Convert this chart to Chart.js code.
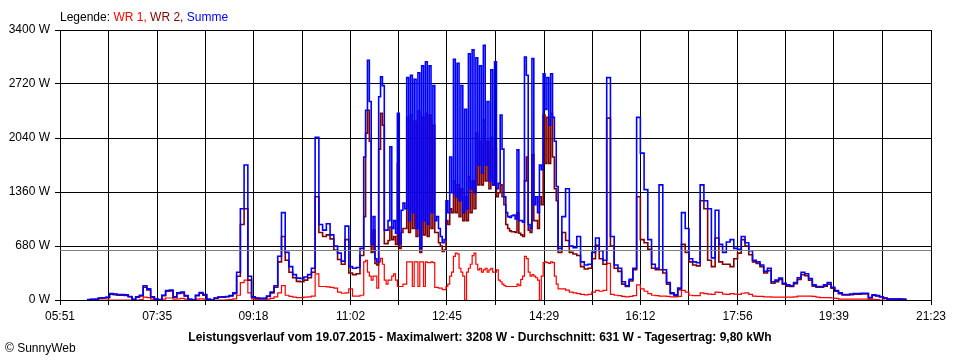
<!DOCTYPE html>
<html>
<head>
<meta charset="utf-8">
<script src="https://cdn.jsdelivr.net/npm/chart.js@4.4.0/dist/chart.umd.min.js"></script>
<style>
  html, body { margin: 0; padding: 0; background: #fff; }
  #wrap { position: relative; width: 960px; height: 360px; overflow: hidden; font-family: "Liberation Sans", Arial, sans-serif; }
  #c { position: absolute; left: 0; top: 0; }
  .txt { position: absolute; white-space: nowrap; font-size: 12px; line-height: 14px; color: #000; }
  #legend { left: 60px; top: 10px; }
  #title { left: 0; width: 960px; top: 330px; text-align: center; font-weight: bold; }
  #copy { left: 5px; top: 341px; }
</style>
</head>
<body>
<div id="wrap">
  <canvas id="c" width="960" height="360"></canvas>
  <div id="legend" class="txt">Legende: <span style="color:#ff0000">WR 1,</span> <span style="color:#800000">WR 2,</span> <span style="color:#0000ff">Summe</span></div>
  <div id="title" class="txt">Leistungsverlauf vom 19.07.2015 - Maximalwert: 3208 W - Durchschnitt: 631 W - Tagesertrag: 9,80 kWh</div>
  <div id="copy" class="txt">© SunnyWeb</div>
</div>
<script>
// ---- data ----
const xTickLabels = ['05:51','07:35','09:18','11:02','12:45','14:29','16:12','17:56','19:39','21:23'];
const yTickLabels = ['0 W','680 W','1360 W','2040 W','2720 W','3400 W'];
const yMax = 3400;
const averageW = 631;

const times = [
 '06:20','06:24','06:28','06:32','06:36','06:40','06:44','06:48','06:52','06:56',
 '07:00','07:04','07:08','07:12','07:16','07:20','07:24','07:28','07:32','07:36','07:40','07:44','07:48','07:52','07:56',
 '08:00','08:04','08:08','08:12','08:16','08:20','08:24','08:28','08:32','08:36','08:40','08:44','08:48','08:52','08:56',
 '09:00','09:04','09:08','09:12','09:16','09:20','09:24','09:28','09:32','09:36','09:40','09:44','09:48','09:52','09:56',
 '10:00','10:04','10:08','10:12','10:16','10:20','10:24','10:28','10:32','10:36','10:40','10:44','10:48','10:52','10:56',
 '11:00','11:04','11:08','11:12','11:16','11:18','11:20','11:22','11:24','11:26','11:28','11:30','11:32','11:34','11:36','11:38','11:40','11:42','11:44','11:46','11:48','11:50','11:52','11:54','11:56','11:58',
 '12:00','12:02','12:04','12:06','12:08','12:10','12:12','12:14','12:16','12:18','12:20','12:22','12:24','12:26','12:28','12:30','12:32','12:34','12:36','12:38','12:40','12:42','12:44','12:46','12:48','12:50','12:52','12:54','12:56','12:58',
 '13:00','13:02','13:04','13:06','13:08','13:10','13:12','13:14','13:16','13:18','13:20','13:22','13:24','13:26','13:28','13:30','13:32','13:34','13:36','13:38','13:40','13:42','13:44','13:46','13:48','13:50','13:52','13:54','13:56','13:58',
 '14:00','14:02','14:04','14:06','14:08','14:10','14:12','14:14','14:16','14:18','14:20','14:22','14:24','14:26','14:28','14:30','14:32','14:34','14:36','14:38','14:40','14:42','14:44','14:48','14:52','14:56',
 '15:00','15:04','15:08','15:12','15:16','15:20','15:24','15:28','15:32','15:36','15:40','15:44','15:48','15:52','15:56',
 '16:00','16:04','16:08','16:12','16:16','16:20','16:24','16:28','16:32','16:36','16:40','16:44','16:48','16:52','16:56',
 '17:00','17:04','17:08','17:12','17:16','17:20','17:24','17:28','17:32','17:36','17:40','17:44','17:48','17:52','17:56',
 '18:00','18:04','18:08','18:12','18:16','18:20','18:24','18:28','18:32','18:36','18:40','18:44','18:48','18:52','18:56',
 '19:00','19:04','19:08','19:12','19:16','19:20','19:24','19:28','19:32','19:36','19:40','19:44','19:48','19:52','19:56',
 '20:00','20:04','20:08','20:12','20:16','20:20','20:24','20:28','20:32','20:36','20:40','20:44','20:48','20:52','20:56'
];

const summe = [
 5,8,10,25,28,35,80,75,68,68,
 65,45,8,40,60,180,140,40,12,5,60,120,125,40,90,
 100,55,10,0,60,95,70,10,0,25,38,40,45,55,90,
 350,1150,1700,300,40,25,20,20,50,100,180,550,1100,600,420,
 320,275,270,290,320,400,2050,950,880,960,820,680,590,490,930,
 420,400,410,650,1800,2390,3020,2500,700,1050,520,480,2560,2810,2700,880,880,1000,1930,900,1000,840,2350,710,1130,1220,
 1150,2800,1000,2830,1100,2780,900,2860,650,2950,1000,3000,950,2950,1100,2700,1000,1050,900,800,720,760,1250,1100,1800,1350,3030,1300,2980,1250,
 2700,1100,2400,1150,3100,1400,3150,1350,3050,1700,2950,1600,3208,1700,2500,1500,2900,1450,3000,1400,1470,2330,1900,1300,1100,1050,1040,1060,1070,1020,
 1890,1000,1000,980,3060,2830,950,900,3040,1200,1300,1100,1700,1640,2850,2400,2800,2200,2850,2300,2000,1430,650,1050,1400,680,
 660,800,480,440,450,600,780,620,500,2800,800,440,400,230,180,
 260,400,2300,1850,1390,760,450,400,1450,380,220,90,65,150,1100,
 900,520,480,470,1450,1250,1150,530,1130,700,600,730,760,650,640,
 800,720,620,500,480,440,360,400,230,250,275,210,190,180,220,
 280,350,330,270,190,170,170,190,220,160,120,90,70,70,75,
 80,80,85,85,30,65,55,40,25,13,13,13,12,10,0
];

const wr2 = [
 4,7,9,22,25,30,72,68,62,62,
 58,40,6,36,52,160,125,35,10,4,55,110,115,35,82,
 90,50,8,0,55,85,62,8,0,22,34,36,40,50,80,
 300,950,1150,250,35,22,18,18,45,90,160,480,800,500,350,
 280,235,230,250,280,350,1300,850,800,820,770,630,510,450,760,
 340,320,330,560,1050,2100,2390,2000,600,880,460,440,1900,2350,2200,710,710,750,920,760,800,700,1720,650,850,900,
 900,2300,850,2330,900,2250,800,2380,600,2300,820,2350,800,2330,900,2200,850,850,720,680,610,630,1000,950,1150,1100,1500,1100,1450,1050,
 1400,1000,1300,1000,1550,1100,1500,1150,2100,1450,2000,1450,2270,1500,2000,1400,2050,1450,1900,1300,1350,1450,1300,1200,950,900,870,860,860,850,
 1100,840,820,800,1500,1800,880,850,1830,1000,1000,900,1300,1200,2330,1720,2300,1720,2350,1800,1400,1250,600,850,750,600,
 580,560,420,390,400,520,690,520,450,2290,680,400,360,200,170,
 240,380,1300,760,720,640,400,380,380,340,200,80,55,130,700,
 600,480,440,430,1250,1150,500,420,780,480,450,450,420,520,590,
 760,680,570,480,460,420,340,370,210,230,260,200,175,170,205,
 260,320,305,250,175,160,160,175,200,150,110,80,65,65,68,
 72,72,75,75,28,58,50,38,22,12,12,12,11,9,0
];

const wr1 = [
 0,0,0,0,0,0,0,0,0,0,
 0,0,0,0,5,35,30,10,0,0,10,25,25,10,15,
 20,10,0,0,10,15,12,0,0,0,0,0,3,5,15,
 60,220,250,90,15,5,3,3,10,20,40,90,180,60,45,
 35,30,30,35,40,50,330,170,170,165,160,150,100,85,90,
 140,50,50,60,480,500,350,300,250,300,300,150,480,525,450,250,200,250,250,300,330,250,170,170,170,200,
 200,480,480,480,170,480,480,170,480,480,170,480,470,470,480,470,160,160,150,150,130,130,170,200,300,350,550,590,580,400,
 350,300,0,350,400,450,560,590,450,380,400,350,380,400,350,380,400,350,350,380,250,230,200,180,170,170,170,170,170,170,
 200,180,260,300,550,520,350,300,320,300,280,250,0,300,470,480,470,460,480,470,300,200,140,140,125,100,
 90,80,70,65,70,100,120,110,120,460,70,60,55,45,40,
 45,55,190,140,110,80,60,55,50,50,45,40,40,45,120,
 100,60,55,55,90,80,75,70,100,95,75,70,80,75,70,
 85,90,70,50,45,45,40,40,35,35,35,35,35,35,40,
 50,50,50,50,45,35,30,30,30,25,20,12,10,10,10,
 10,10,10,10,8,8,5,0,0,0,0,0,0,0,0
];

// ---- helpers ----
function toMin(s) { const p = s.split(':'); return (+p[0]) * 60 + (+p[1]); }
function pts(arr) { return arr.map((v, i) => ({ x: toMin(times[i]), y: v })); }

const labelMinutes = xTickLabels.map(toMin);
const gridMinutes = [];
labelMinutes.forEach((m, k) => {
  gridMinutes.push(m);
  if (k < labelMinutes.length - 1) gridMinutes.push((m + labelMinutes[k + 1]) / 2);
});

const avgLine = {
  id: 'avgLine',
  afterDraw(chart) {
    const { ctx, chartArea, scales } = chart;
    const y = Math.round(scales.y.getPixelForValue(averageW)) + 0.5;
    ctx.save();
    ctx.strokeStyle = '#808080';
    ctx.lineWidth = 1;
    ctx.beginPath();
    ctx.moveTo(chartArea.left, y);
    ctx.lineTo(chartArea.right, y);
    ctx.stroke();
    ctx.restore();
  }
};

Chart.defaults.font.family = '"Liberation Sans", Arial, sans-serif';
Chart.defaults.font.size = 12;
Chart.defaults.color = '#000';

const common = { pointRadius: 0, pointHoverRadius: 0, stepped: true, fill: false, tension: 0 };

new Chart(document.getElementById('c'), {
  type: 'line',
  data: {
    datasets: [
      Object.assign({ label: 'Summe', data: pts(summe), borderColor: '#0000ff', borderWidth: 1.6, order: 0 }, common),
      Object.assign({ label: 'WR 2', data: pts(wr2), borderColor: '#800000', borderWidth: 1.6, order: 1 }, common),
      Object.assign({ label: 'WR 1', data: pts(wr1), borderColor: '#ff0000', borderWidth: 1.2, order: 2 }, common)
    ]
  },
  options: {
    responsive: false,
    animation: false,
    devicePixelRatio: 1,
    layout: { padding: { top: 30, right: 29, left: 0, bottom: 0 } },
    plugins: { legend: { display: false }, tooltip: { enabled: false }, title: { display: false } },
    scales: {
      x: {
        type: 'linear',
        min: labelMinutes[0],
        max: labelMinutes[labelMinutes.length - 1],
        z: 1,
        afterBuildTicks: s => { s.ticks = gridMinutes.map(v => ({ value: v })); },
        afterFit: s => { s.height = 60; },
        ticks: {
          autoSkip: false, maxRotation: 0, minRotation: 0, padding: 4, color: '#000',
          font: { size: 12 },
          callback: v => { const k = labelMinutes.indexOf(v); return k >= 0 ? xTickLabels[k] : ''; }
        },
        grid: { color: '#000', lineWidth: 1, tickLength: 5, drawTicks: true },
        border: { color: '#000', width: 1 }
      },
      y: {
        min: 0, max: yMax,
        z: 1,
        afterFit: s => { s.width = 60; },
        ticks: {
          stepSize: 680, padding: 5, color: '#000', font: { size: 12 },
          callback: (v, i) => yTickLabels[i]
        },
        grid: { color: '#000', lineWidth: 1, tickLength: 5, drawTicks: true },
        border: { color: '#000', width: 1 }
      }
    }
  },
  plugins: [avgLine]
});
</script>
</body>
</html>
